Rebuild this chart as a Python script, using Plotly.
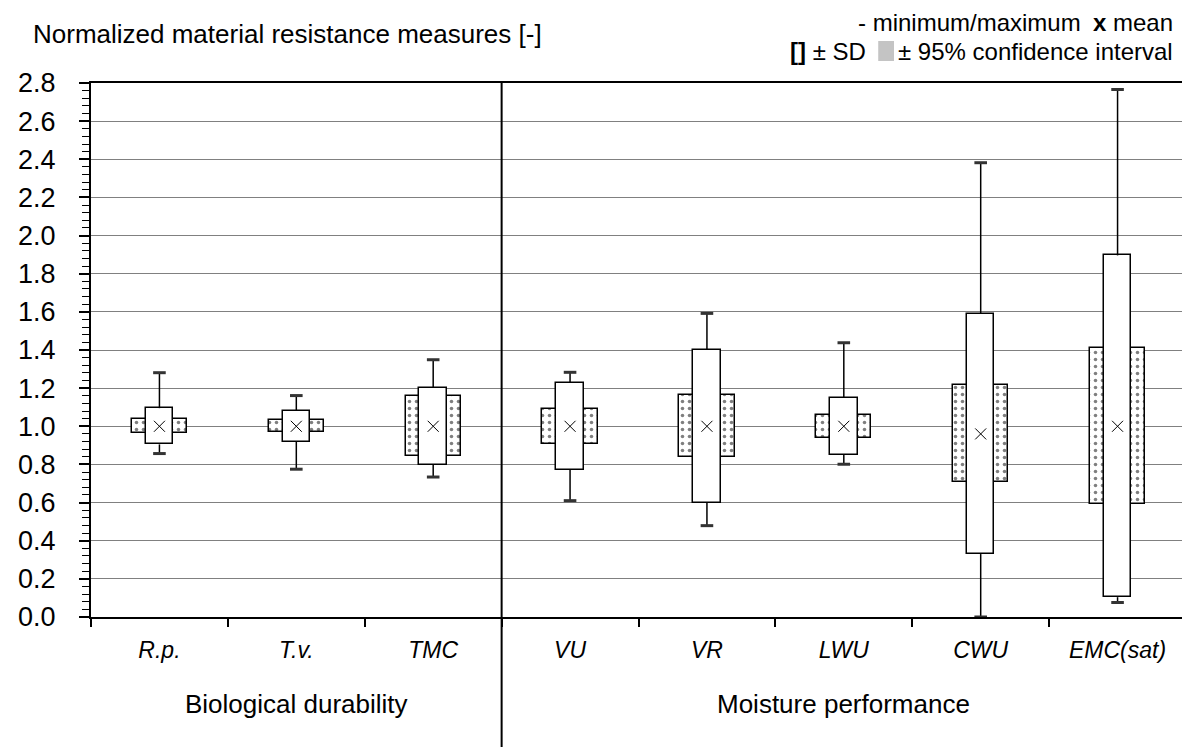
import plotly.graph_objects as go

categories = ["R.p.", "T.v.", "TMC", "VU", "VR", "LWU", "CWU", "EMC(sat)"]
groups = ["Biological durability", "Moisture performance"]
group_sizes = [3, 5]

mean_vals = [1.0, 1.0, 1.0, 1.0, 1.0, 1.0, 0.96, 1.0]
sd_vals = [0.095, 0.080, 0.203, 0.228, 0.400, 0.150, 0.630, 0.896]
ci_vals = [0.037, 0.031, 0.157, 0.093, 0.162, 0.061, 0.254, 0.408]
min_vals = [0.857, 0.775, 0.734, 0.610, 0.479, 0.801, 0.0, 0.076]
max_vals = [1.281, 1.161, 1.349, 1.283, 1.592, 1.438, 2.382, 2.766]

FONT = "Liberation Sans, Arial, sans-serif"
W, H = 1190, 747
ML, MR, MT, MB = 70, 10, 75, 138
PW, PH = W - ML - MR, H - MT - MB


def px(xp):
    return (xp - ML) / PW


def py(yp):
    return (H - MB - yp) / PH


fig = go.Figure()

# whisker segments (drawn first so boxes cover them)
wx, wy = [], []
for c, m, s, lo, hi in zip(categories, mean_vals, sd_vals, min_vals, max_vals):
    wx += [c, c, None, c, c, None]
    wy += [hi, m + s, None, m - s, lo, None]
fig.add_trace(go.Scatter(x=wx, y=wy, mode="lines", line=dict(color="black", width=1.5),
                         hoverinfo="skip", showlegend=False, cliponaxis=False))

# 95% CI boxes (dotted)
fig.add_trace(go.Bar(
    x=categories,
    base=[m - c for m, c in zip(mean_vals, ci_vals)],
    y=[2 * c for c in ci_vals],
    width=0.403,
    marker=dict(color="white", line=dict(color="black", width=1.5),
                pattern=dict(shape=".", size=7, solidity=0.2, fgcolor="black", bgcolor="white")),
    showlegend=False,
))

# SD boxes
fig.add_trace(go.Bar(
    x=categories,
    base=[m - s for m, s in zip(mean_vals, sd_vals)],
    y=[2 * s for s in sd_vals],
    width=0.201,
    marker=dict(color="white", line=dict(color="black", width=1.5)),
    showlegend=False,
))

# min/max caps
fig.add_trace(go.Scatter(
    x=categories + categories, y=min_vals + max_vals, mode="markers",
    marker=dict(symbol="line-ew", size=9, line=dict(color="#333333", width=3)),
    showlegend=False, cliponaxis=False,
))

# means
fig.add_trace(go.Scatter(
    x=categories, y=mean_vals, mode="markers",
    marker=dict(symbol="x-thin", size=11, line=dict(color="black", width=1)),
    showlegend=False,
))

fig.update_layout(
    width=W, height=H,
    margin=dict(l=ML, r=MR, t=MT, b=MB),
    paper_bgcolor="white", plot_bgcolor="white",
    barmode="overlay", bargap=0,
    font=dict(family=FONT, color="black"),
)

fig.update_xaxes(
    type="category", categoryorder="array", categoryarray=categories,
    range=[-0.5, len(categories) - 0.5],
    tickmode="array", tickvals=categories, ticktext=[f"<i>{c}</i>" for c in categories],
    tickson="boundaries", ticks="outside", ticklen=8, tickwidth=1.5, tickcolor="black",
    tickfont=dict(size=23, family=FONT), ticklabelstandoff=11,
    showline=True, linecolor="black", linewidth=2, mirror=True,
    showgrid=False, zeroline=False,
)

fig.update_yaxes(
    range=[0, 2.8], dtick=0.2, tick0=0, tickformat=".1f",
    ticks="outside", ticklen=10, tickwidth=1.5, tickcolor="black",
    tickfont=dict(size=27, family=FONT), ticklabelstandoff=18,
    showline=True, linecolor="black", linewidth=2, mirror=True,
    showgrid=True, gridcolor="#808080", gridwidth=1, zeroline=False,
    minor=dict(dtick=0.04, ticks="outside", ticklen=7, tickwidth=1, tickcolor="black", showgrid=False),
)

# separator between groups
sep = group_sizes[0] / len(categories)
fig.add_shape(type="line", xref="paper", yref="paper", x0=sep, x1=sep, y0=1, y1=py(H),
              line=dict(color="black", width=2))

# group labels
start = 0
for g, n in zip(groups, group_sizes):
    fig.add_annotation(text=g, xref="paper", yref="paper",
                       x=(start + n / 2) / len(categories), y=py(696),
                       xanchor="center", yanchor="middle", showarrow=False,
                       font=dict(size=26, family=FONT))
    start += n

# title
fig.add_annotation(text="Normalized material resistance measures [-]", xref="paper", yref="paper",
                   x=px(9), y=py(26), xanchor="left", yanchor="middle", showarrow=False,
                   font=dict(size=26, family=FONT))

# legend texts
fig.add_annotation(text="- minimum/maximum", xref="paper", yref="paper",
                   x=px(845), y=py(14), xanchor="left", yanchor="middle", showarrow=False,
                   font=dict(size=24, family=FONT))
fig.add_annotation(text="<b>x</b> mean", xref="paper", yref="paper",
                   x=px(1169), y=py(14), xanchor="right", yanchor="middle", showarrow=False,
                   font=dict(size=24, family=FONT))
fig.add_annotation(text="<b>[]</b> ± SD", xref="paper", yref="paper",
                   x=px(858), y=py(43), xanchor="right", yanchor="middle", showarrow=False,
                   font=dict(size=24, family=FONT))
fig.add_annotation(text="± 95% confidence interval", xref="paper", yref="paper",
                   x=px(1169), y=py(43), xanchor="right", yanchor="middle", showarrow=False,
                   font=dict(size=24, family=FONT))
fig.add_shape(type="rect", xref="paper", yref="paper",
              x0=px(868), x1=px(884), y0=py(53), y1=py(33),
              fillcolor="#c4c4c4", line=dict(width=0))

fig.write_html("out.html")
